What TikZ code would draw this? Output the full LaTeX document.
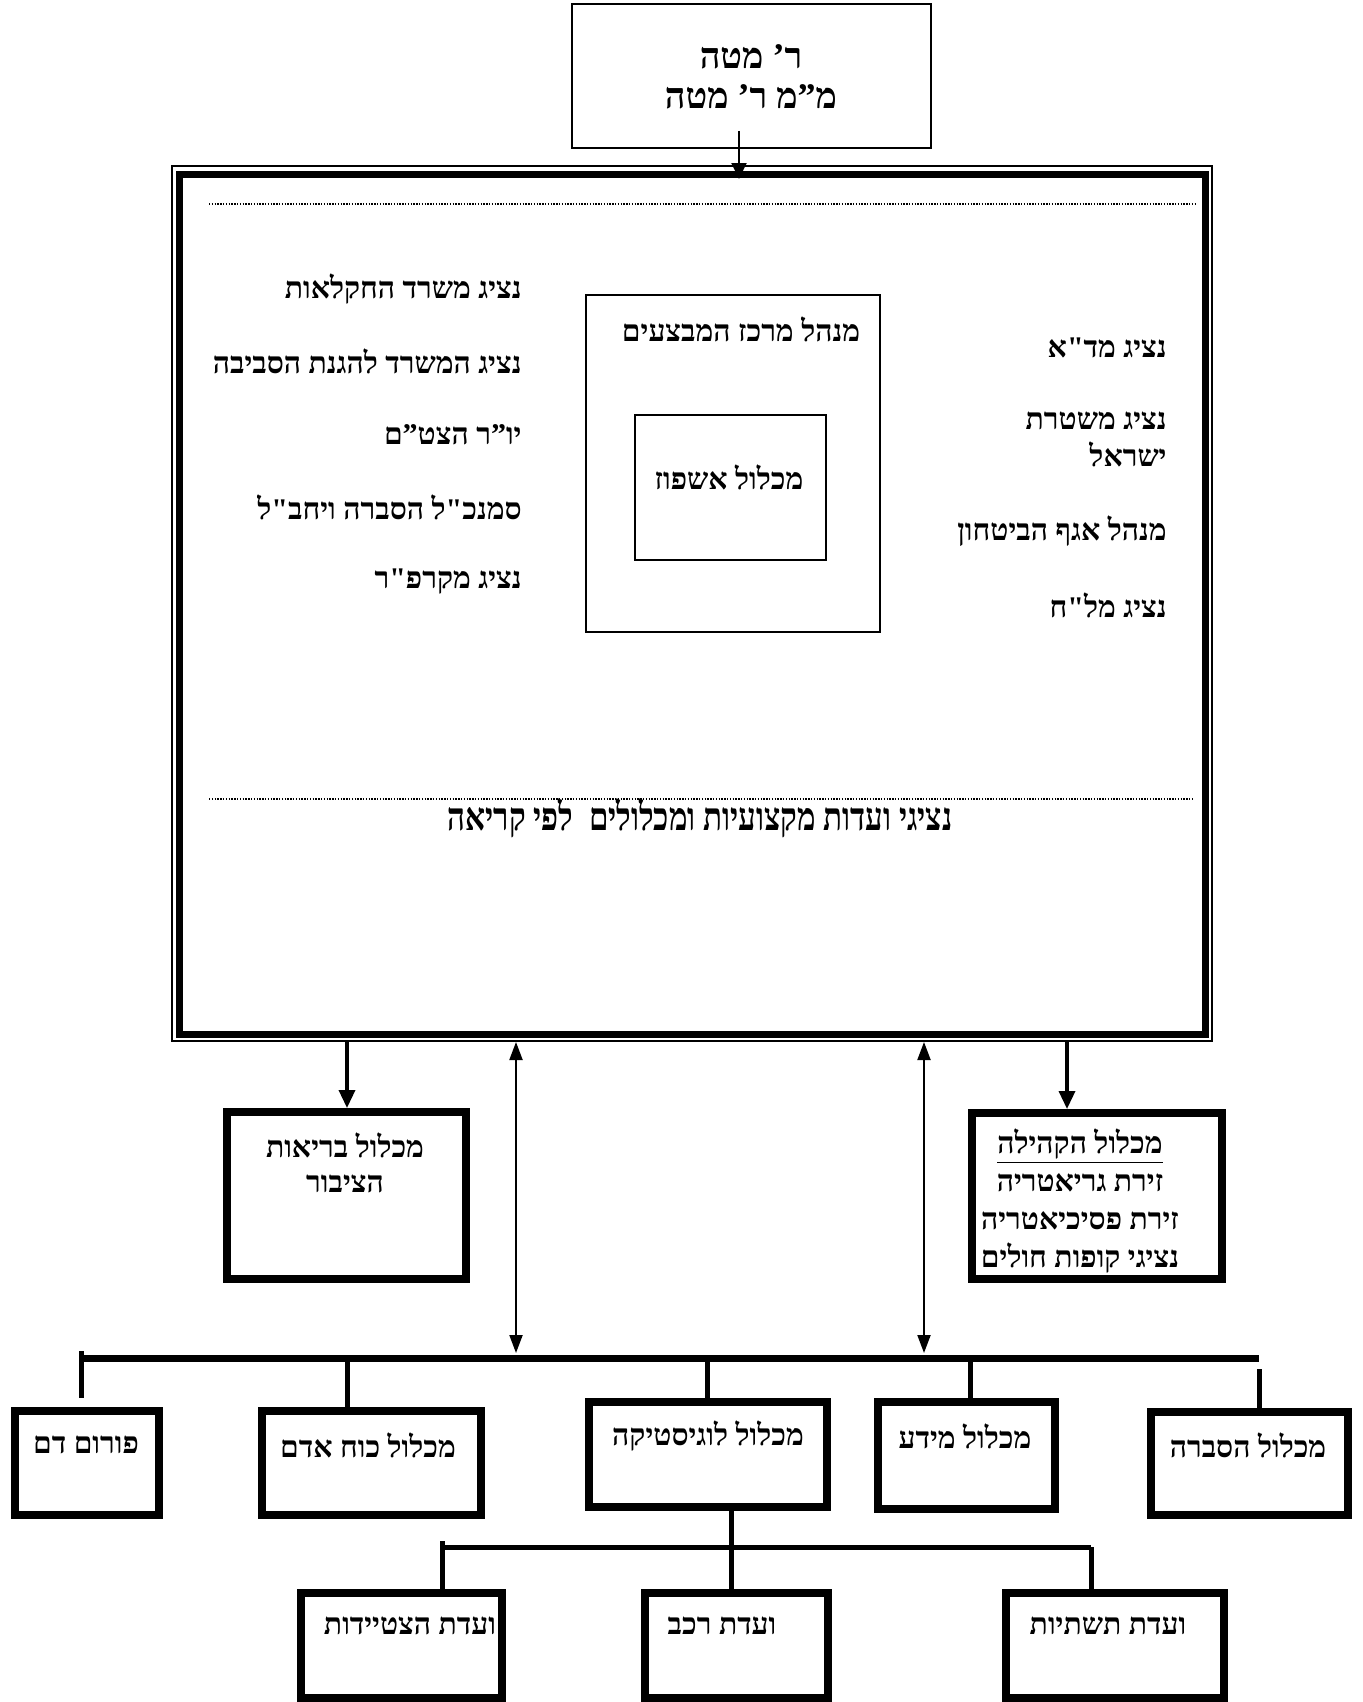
\documentclass[tikz,border=0pt]{standalone}
\usepackage{fontspec}
\usepackage{graphicx}
\usetikzlibrary{arrows.meta,fit}
\TeXXeTstate=1
\newfontfamily\heb[Script=Hebrew]{Liberation Serif Bold}
\newcommand\hb[1]{\beginR#1\endR}
\begin{document}
\begin{tikzpicture}[x=0.5pt,y=-0.5pt,
  thinbox/.style={draw, line width=0.8pt, inner sep=0pt},
  midbox/.style={draw, line width=1.2pt, inner sep=0pt},
  heavybox/.style={draw, line width=4pt, inner sep=0pt},
  txt/.style={font={\heb\fontsize{15pt}{18.5pt}\selectfont}, inner sep=0pt},
  bigtxt/.style={font={\heb\fontsize{18pt}{20pt}\selectfont}, inner sep=0pt},
  dotline/.style={line width=1.1pt, dash pattern=on 0.7pt off 0.7pt},
  downarrow/.style={line width=1.7pt, -{Triangle[width=8pt,length=9pt]}},
  twoarrow/.style={line width=1pt, {Triangle[width=6.5pt,length=9pt]}-{Triangle[width=6.5pt,length=9pt]}},
  stem/.style={line width=2.5pt},
  busline/.style={line width=3.5pt}
]
\useasboundingbox (0,0) rectangle (1362,1702);
\fill[white] (0,0) rectangle (1362,1702);

% top box
\node[thinbox, fit={(572,4)(931,148)}] (top) {};
\node[bigtxt, align=center] (toptxt) at (751,77) {\hb{ר’ מטה}\\\hb{מ”מ ר’ מטה}};

% frame
\node[thinbox, fit={(172,166)(1212,1041)}] (frameout) {};
\node[draw, line width=3.5pt, inner sep=0pt, fit={(179,174)(1205,1034)}] (frame) {};

\coordinate (ta) at (739,131);
\coordinate (tb) at (739,179);
\draw[line width=1pt, -{Triangle[width=7.5pt,length=8pt]}] (ta) -- (tb);

\coordinate (d1a) at (209,204);
\coordinate (d1b) at (1197,204);
\coordinate (d2a) at (209,799);
\coordinate (d2b) at (1194,799);
\draw[dotline] (d1a) -- (d1b);
\draw[dotline] (d2a) -- (d2b);

% left texts
\node[txt, anchor=east] (l1) at (522,289) {\hb{נציג משרד החקלאות}};
\node[txt, anchor=east] (l2) at (522,361) {\hb{נציג המשרד להגנת הסביבה}};
\node[txt, anchor=east] (l3) at (522,435) {\hb{יו”ר הצט”ם}};
\node[txt, anchor=east] (l4) at (522,507) {\hb{סמנכ"ל הסברה ויחב"ל}};
\node[txt, anchor=east] (l5) at (522,582) {\hb{נציג מקרפ"ר}};

% center
\node[midbox, fit={(586,295)(880,632)}] (ops) {};
\node[midbox, fit={(635,415)(826,560)}] (hosp) {};
\node[txt] (opstxt) at (741,329) {\hb{מנהל מרכז המבצעים}};
\node[txt] (hosptxt) at (729,477) {\hb{מכלול אשפוז}};

% right texts
\node[txt, anchor=east] (r1) at (1167,348) {\hb{נציג מד"א}};
\node[txt, anchor=east, align=right] (r2) at (1167,439) {\hb{נציג משטרת}\\\hb{ישראל}};
\node[txt, anchor=east] (r3) at (1167,531) {\hb{מנהל אגף הביטחון}};
\node[txt, anchor=east] (r4) at (1167,605) {\hb{נציג מל"ח}};

% caption
\node[txt] (cap) at (700,818) {\scalebox{1.04}[1.3]{\hb{נציגי ועדות מקצועיות ומכלולים \ לפי קריאה}}};

% middle boxes
\node[heavybox, fit={(227,1112)(466,1279)}] (hp) {};
\node[txt, align=center, font={\heb\fontsize{15pt}{17.5pt}\selectfont}] (hptxt) at (345,1163) {\hb{מכלול בריאות}\\\hb{הציבור}};
\node[heavybox, fit={(972,1113)(1222,1279)}] (com) {};
\node[txt, align=center, font={\heb\fontsize{15pt}{19pt}\selectfont}] (comtxt) at (1080,1201) {\underline{\hb{מכלול הקהילה}}\\\hb{זירת גריאטריה}\\\hb{זירת פסיכיאטריה}\\\hb{נציגי קופות חולים}};

\coordinate (a1) at (347,1042);
\coordinate (a2) at (1067,1042);
\draw[downarrow] (a1) -- (a1 |- hp.north);
\draw[downarrow] (a2) -- (a2 |- com.north);

\coordinate (b1t) at (516,1042);
\coordinate (b1b) at (516,1353);
\coordinate (b2t) at (924,1042);
\coordinate (b2b) at (924,1353);
\draw[twoarrow] (b1t) -- (b1b);
\draw[twoarrow] (b2t) -- (b2b);

% bus
\coordinate (busL) at (81,1358);
\coordinate (busR) at (1259,1358);
\draw[busline] (busL) -- (busR);

% bottom row boxes
\node[heavybox, fit={(15,1411)(159,1515)}] (fd) {};
\node[heavybox, fit={(262,1411)(481,1515)}] (ka) {};
\node[heavybox, fit={(589,1402)(827,1507)}] (lg) {};
\node[heavybox, fit={(878,1402)(1055,1509)}] (md) {};
\node[heavybox, fit={(1151,1412)(1348,1515)}] (hs) {};

\node[txt] (fdtxt) at (86,1445) {\hb{פורום דם}};
\node[txt] (katxt) at (368,1445) {\hb{מכלול כוח אדם}};
\node[txt] (lgtxt) at (708,1436) {\hb{מכלול לוגיסטיקה}};
\node[txt] (mdtxt) at (965,1436) {\hb{מכלול מידע}};
\node[txt] (hstxt) at (1248,1445) {\hb{מכלול הסברה}};

\coordinate (v1a) at (81,1351);
\coordinate (v1b) at (81,1398);
\draw[stem] (v1a) -- (v1b);
\coordinate (v2) at (347,1358);
\draw[stem] (v2) -- (v2 |- ka.north);
\coordinate (v3) at (707,1358);
\draw[stem] (v3) -- (v3 |- lg.north);
\coordinate (v4) at (970,1358);
\draw[stem] (v4) -- (v4 |- md.north);
\coordinate (v5) at (1259,1369);
\draw[stem] (v5) -- (v5 |- hs.north);

% logistics sub tree
\node[heavybox, fit={(301,1593)(502,1698)}] (eq) {};
\node[heavybox, fit={(645,1593)(828,1698)}] (rk) {};
\node[heavybox, fit={(1006,1593)(1224,1698)}] (ts) {};
\node[txt] (eqtxt) at (410,1626) {\hb{ועדת הצטיידות}};
\node[txt] (rktxt) at (722,1626) {\hb{ועדת רכב}};
\node[txt] (tstxt) at (1108,1626) {\hb{ועדת תשתיות}};

\coordinate (s0) at (731,1507);
\draw[stem] (s0) -- (s0 |- rk.north);
\coordinate (sL) at (442,1547);
\coordinate (sR) at (1091,1547);
\draw[stem] (sL) -- (sR);
\coordinate (sLt) at (442,1541);
\draw[stem] (sLt) -- (sLt |- eq.north);
\draw[stem] (sR) -- (sR |- ts.north);
\end{tikzpicture}
\end{document}
